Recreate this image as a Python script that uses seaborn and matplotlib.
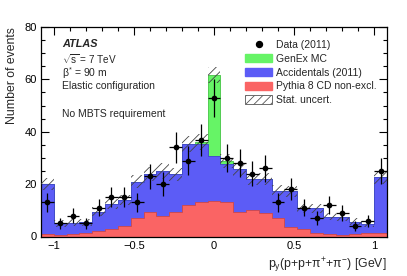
import numpy as np
import pandas as pd
import matplotlib
matplotlib.use("Agg")
import matplotlib.pyplot as plt
import seaborn as sns
from matplotlib.patches import Patch
from matplotlib.lines import Line2D
from matplotlib.ticker import MultipleLocator

# ---------------- data ----------------
bin_centers = [-1.04, -0.96, -0.88, -0.80, -0.72, -0.64, -0.56, -0.48, -0.40,
               -0.32, -0.24, -0.16, -0.08, 0.00, 0.08, 0.16, 0.24, 0.32,
               0.40, 0.48, 0.56, 0.64, 0.72, 0.80, 0.88, 0.96, 1.04]
bin_halfwidth = 0.04

data_counts = [13, 5, 8, 5, 11, 15, 15, 13, 23, 20, 34, 29, 37, 53, 30, 28,
               24, 26, 13, 18, 11, 7, 12, 9, 4, 6, 25]
data_errors = [3.6, 2.2, 2.8, 2.2, 3.3, 3.9, 3.9, 3.6, 4.8, 4.5, 5.8, 5.4,
               6.1, 7.3, 5.5, 5.3, 4.9, 5.1, 3.6, 4.2, 3.3, 2.6, 3.5, 3.0,
               2.0, 2.4, 5.0]

pythia = [1.0, 0.5, 0.8, 1.2, 2.0, 2.8, 4.0, 7.0, 9.5, 7.9, 9.5, 12.1, 13.1,
          13.5, 13.1, 9.5, 10.2, 8.9, 7.0, 3.8, 3.0, 1.2, 0.9, 0.5, 0.8, 1.2,
          1.5]
accidentals = [19.0, 4.5, 4.5, 4.3, 7.5, 9.7, 9.8, 14.0, 14.5, 17.0, 14.2,
               23.1, 22.1, 17.2, 14.7, 16.1, 11.8, 13.1, 10.5, 13.4, 7.8, 9.6,
               6.7, 6.8, 4.9, 3.5, 21.1]
genex = [0, 0, 0, 0, 0, 0, 0, 0, 0, 0, 0, 0, 1.0, 31.0, 1.0, 0, 0, 0, 0, 0,
         0, 0, 0, 0, 0, 0, 0]
stat_uncert = [2.3, 1.3, 1.3, 1.3, 1.7, 1.9, 1.9, 2.5, 2.7, 3.0, 2.6, 3.0,
               3.0, 3.2, 2.6, 2.5, 2.3, 2.3, 2.1, 2.1, 1.7, 1.7, 1.4, 1.4,
               1.2, 1.1, 2.4]

labels = ["Data (2011)", "GenEx MC", "Accidentals (2011)",
          "Pythia 8 CD non-excl.", "Stat. uncert."]
x_ticks = [-1, -0.5, 0, 0.5, 1]
y_ticks = [0, 20, 40, 60, 80]

# ---------------- style ----------------
sns.set_style("ticks")
plt.rcParams["font.family"] = ["Liberation Sans", "DejaVu Sans"]
plt.rcParams["mathtext.fontset"] = "custom"
plt.rcParams["mathtext.rm"] = "Liberation Sans"
plt.rcParams["mathtext.it"] = "Liberation Sans:italic"
plt.rcParams["mathtext.bf"] = "Liberation Sans:bold"
plt.rcParams["hatch.linewidth"] = 0.6

c_green = "#66f466"
c_blue = "#5c5cf6"
c_red = "#fa6464"

df = pd.DataFrame({"center": bin_centers, "data": data_counts,
                   "err": data_errors, "pythia": pythia,
                   "acc": accidentals, "genex": genex, "stat": stat_uncert})
df["lvl_red"] = df["pythia"]
df["lvl_blue"] = df["pythia"] + df["acc"]
df["lvl_total"] = df["lvl_blue"] + df["genex"]

centers = np.array(bin_centers)
edges = np.append(centers - bin_halfwidth, centers[-1] + bin_halfwidth)
edge_list = [float(e) for e in edges]

fig = plt.figure(figsize=(4.07, 2.76), dpi=100)
ax = fig.add_axes([41 / 407, 39.5 / 276, 346 / 407, 209.5 / 276])

for col, fc, ec in [("lvl_total", c_green, "#44c444"),
                    ("lvl_blue", c_blue, "#4040d0"),
                    ("lvl_red", c_red, "#d04848")]:
    sns.histplot(data=df, x="center", weights=col, bins=edge_list,
                 element="step", fill=True, color=fc, alpha=1,
                 edgecolor=ec, linewidth=0.6, ax=ax)

# stat uncertainty hatched band
tot = df["lvl_total"].to_numpy()
st = df["stat"].to_numpy()
ax.fill_between(edges, np.append(tot - st, tot[-1] - st[-1]),
                np.append(tot + st, tot[-1] + st[-1]), step="post",
                facecolor="none", edgecolor="#444444", hatch="////",
                linewidth=0, zorder=3)

# data points
ax.errorbar(df["center"], df["data"], yerr=df["err"], xerr=bin_halfwidth,
            fmt="none", ecolor="black", elinewidth=0.9, capsize=0, zorder=4)
sns.scatterplot(data=df, x="center", y="data", color="black", s=17,
                edgecolor="black", linewidth=0, zorder=5, ax=ax)

ax.set_xlim(-1.08, 1.08)
ax.set_ylim(0, 80)
ax.set_xticks(x_ticks)
ax.set_xticklabels(["\u22121", "\u22120.5", "0", "0.5", "1"])
ax.set_yticks(y_ticks)
ax.xaxis.set_minor_locator(MultipleLocator(0.1))
ax.yaxis.set_minor_locator(MultipleLocator(5))
ax.tick_params(which="both", direction="in", top=True, right=True,
               labelsize=8, width=0.8, colors="black")
ax.tick_params(which="major", length=6, pad=3)
ax.tick_params(which="minor", length=3)
for s in ax.spines.values():
    s.set_linewidth(0.9)
    s.set_color("black")

ax.set_ylabel("Number of events", loc="top", fontsize=8.8, labelpad=5)
ax.set_xlabel(r"p$_{\mathregular{y}}$(p+p+π$^{+}$+π$^{-}$) [GeV]",
              loc="right", fontsize=8.8, labelpad=4)

tx = 0.061
ax.text(tx, 0.919, "ATLAS", transform=ax.transAxes, fontsize=7.8,
        fontweight="bold", fontstyle="italic", va="center")
ax.text(tx, 0.845, r"$\sqrt{\mathregular{s}}$ = 7 TeV", transform=ax.transAxes,
        fontsize=7.2, va="center")
ax.text(tx, 0.778, r"β$^{*}$ = 90 m", transform=ax.transAxes,
        fontsize=7.5, va="center")
ax.text(tx, 0.716, "Elastic configuration", transform=ax.transAxes,
        fontsize=7.5, va="center")
ax.text(tx, 0.585, "No MBTS requirement", transform=ax.transAxes,
        fontsize=7.5, va="center")

handles = [Line2D([], [], marker="o", color="black", linestyle="none",
                  markersize=4.3),
           Patch(facecolor=c_green, edgecolor=c_green),
           Patch(facecolor=c_blue, edgecolor=c_blue),
           Patch(facecolor=c_red, edgecolor=c_red),
           Patch(facecolor="white", edgecolor="#555555", hatch="////",
                 linewidth=0.6)]
ax.legend(handles, labels, loc="upper left", bbox_to_anchor=(0.59, 0.937),
          frameon=False, fontsize=7.5, handlelength=2.6, handleheight=0.85,
          handletextpad=0.35, labelspacing=0.36, borderpad=0, borderaxespad=0)

fig.savefig("out.png", dpi=100, facecolor="white")
